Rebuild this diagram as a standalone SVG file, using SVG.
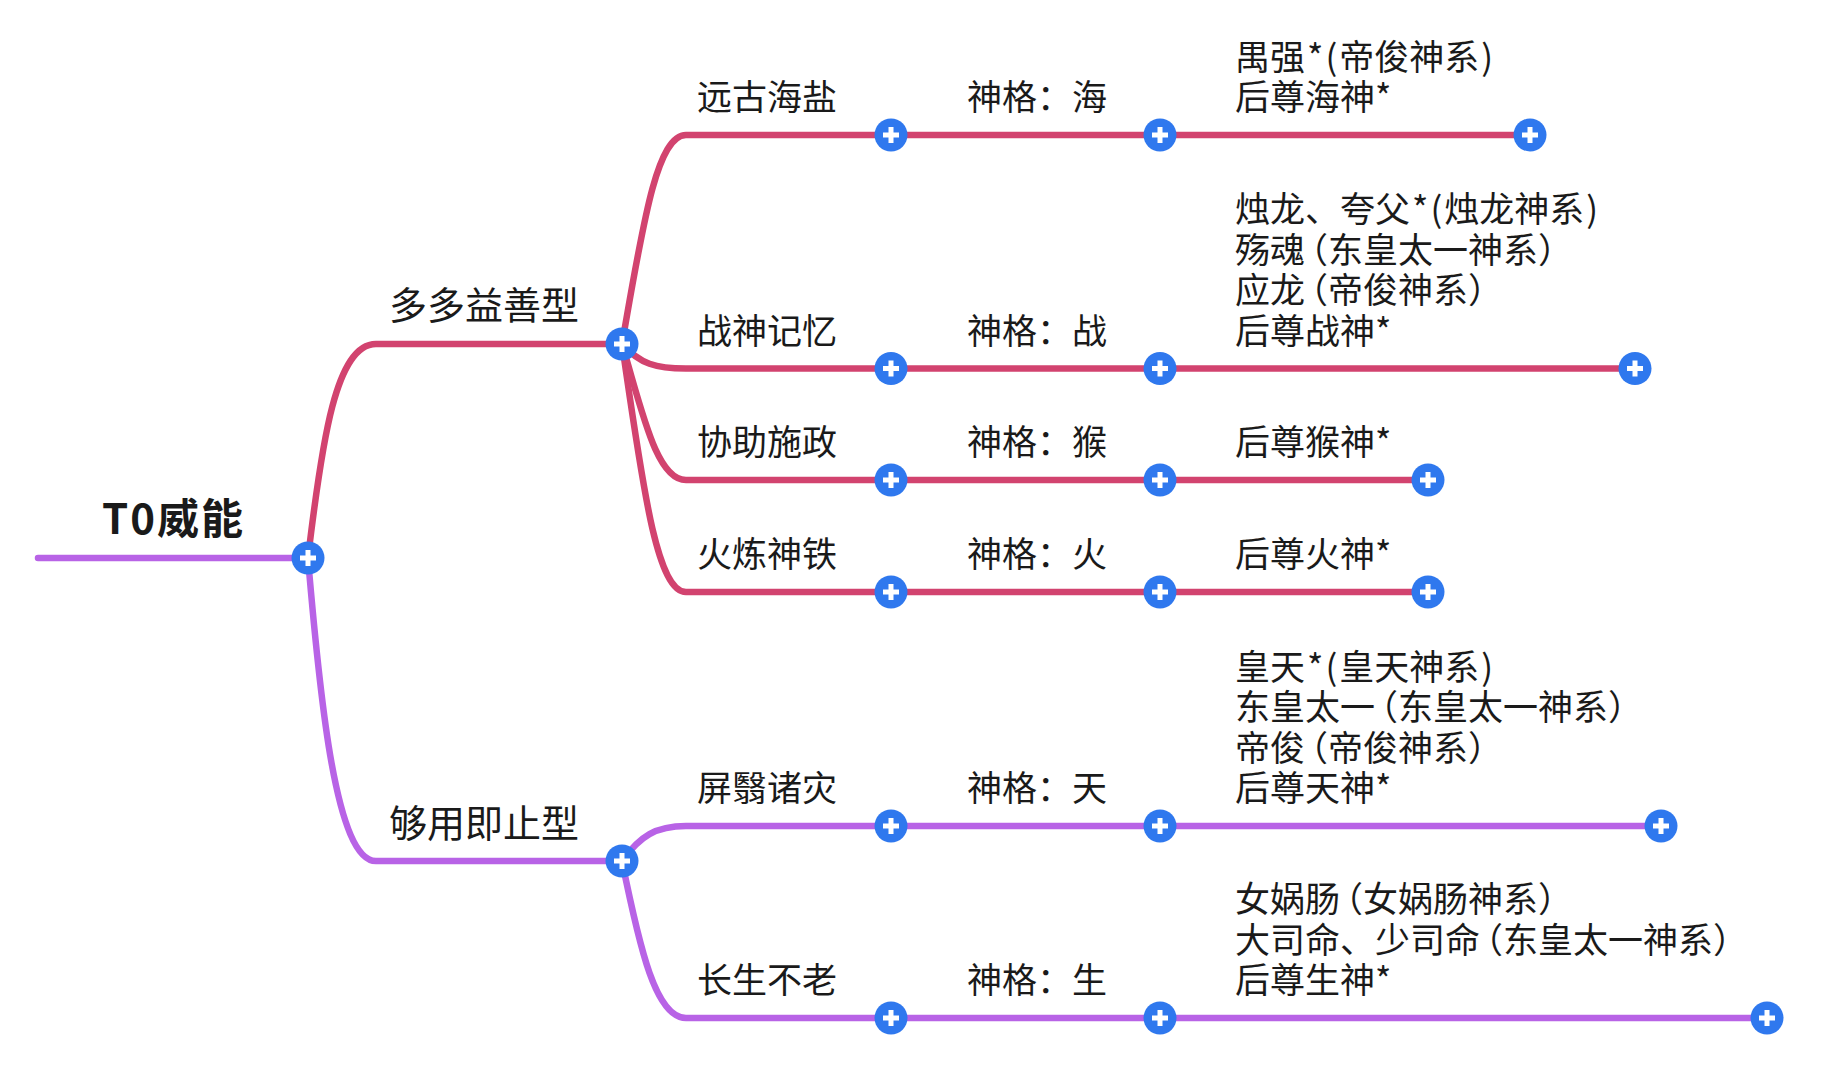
<svg xmlns="http://www.w3.org/2000/svg" xmlns:xlink="http://www.w3.org/1999/xlink" width="1848" height="1080" viewBox="0 0 1848 1080">
<style>
  .t { font-family: "Noto Sans CJK SC", "Noto Sans", sans-serif; fill: #1a1a1a; }
  .root { font-size: 42px; font-weight: 700; letter-spacing: 2px; }
  .l1 { font-size: 38px; }
  .l2 { font-size: 35px; }
  .pink { fill: none; stroke: #d2436f; stroke-width: 6.5; stroke-linecap: round; }
  .purple { fill: none; stroke: #b863e6; stroke-width: 6.5; stroke-linecap: round; }
</style>
<defs>
  <g id="plus">
    <circle r="16.5" fill="#2f78ee"/>
    <path d="M-8,0H8M0,-8V8" stroke="#ffffff" stroke-width="5"/>
  </g>
</defs>
<rect width="1848" height="1080" fill="#ffffff"/>
<g id="connectors">
  <path class="purple" d="M38,558 L308,558"/>
  <path class="pink" d="M308,558 C322,440 336,344 376,344 L622,344"/>
  <path class="purple" d="M308,558 C320,700 336,861 376,861 L622,861"/>
  <path class="pink" d="M622,344 C642,230 656,135 686,135 L1530,135"/>
  <path class="pink" d="M622,344 C640,364 656,368.5 686,368.5 L1635,368.5"/>
  <path class="pink" d="M622,344 C642,410 656,480 686,480 L1428,480"/>
  <path class="pink" d="M622,344 C642,480 656,592 686,592 L1428,592"/>
  <path class="purple" d="M622,861 C640,836 656,826 686,826 L1661,826"/>
  <path class="purple" d="M622,861 C640,950 656,1018 686,1018 L1767,1018"/>
</g>
<g id="node-root">
  <text class="t root" x="102" y="534">T0威能</text>
  <use xlink:href="#plus" href="#plus" x="308" y="558"/>
</g>
<g id="node-duoduo">
  <text class="t l1" x="389" y="319">多多益善型</text>
  <use href="#plus" xlink:href="#plus" x="622" y="344"/>
</g>
<g id="node-gouyong">
  <text class="t l1" x="389" y="837">够用即止型</text>
  <use href="#plus" xlink:href="#plus" x="622" y="861"/>
</g>
<g id="node-yuangu">
  <text class="t l2" x="697" y="110">远古海盐</text>
  <use href="#plus" xlink:href="#plus" x="891" y="135"/>
</g>
<g id="node-shenge-hai">
  <text class="t l2" x="967" y="110">神格：海</text>
  <use href="#plus" xlink:href="#plus" x="1160" y="135"/>
</g>
<g id="node-hai-gods">
  <text class="t l2"><tspan x="1235" y="69.5" dx="0 0 2 2 2 0 0 0 2">禺强*(帝俊神系)</tspan><tspan x="1235" y="110">后尊海神*</tspan></text>
  <use href="#plus" xlink:href="#plus" x="1530" y="135"/>
</g>
<g id="node-zhanshen">
  <text class="t l2" x="697" y="343.5">战神记忆</text>
  <use href="#plus" xlink:href="#plus" x="891" y="368.5"/>
</g>
<g id="node-shenge-zhan">
  <text class="t l2" x="967" y="343.5">神格：战</text>
  <use href="#plus" xlink:href="#plus" x="1160" y="368.5"/>
</g>
<g id="node-zhan-gods">
  <text class="t l2"><tspan x="1235" y="222" dx="0 0 0 0 0 2 2 2 0 0 0 2">烛龙、夸父*(烛龙神系)</tspan><tspan x="1235" y="262.5" dx="0 0 -12">殇魂（东皇太一神系）</tspan><tspan x="1235" y="303" dx="0 0 -12">应龙（帝俊神系）</tspan><tspan x="1235" y="343.5">后尊战神*</tspan></text>
  <use href="#plus" xlink:href="#plus" x="1635" y="368.5"/>
</g>
<g id="node-xiezhu">
  <text class="t l2" x="697" y="455">协助施政</text>
  <use href="#plus" xlink:href="#plus" x="891" y="480"/>
</g>
<g id="node-shenge-hou">
  <text class="t l2" x="967" y="455">神格：猴</text>
  <use href="#plus" xlink:href="#plus" x="1160" y="480"/>
</g>
<g id="node-hou-gods">
  <text class="t l2" x="1235" y="455">后尊猴神*</text>
  <use href="#plus" xlink:href="#plus" x="1428" y="480"/>
</g>
<g id="node-huolian">
  <text class="t l2" x="697" y="567">火炼神铁</text>
  <use href="#plus" xlink:href="#plus" x="891" y="592"/>
</g>
<g id="node-shenge-huo">
  <text class="t l2" x="967" y="567">神格：火</text>
  <use href="#plus" xlink:href="#plus" x="1160" y="592"/>
</g>
<g id="node-huo-gods">
  <text class="t l2" x="1235" y="567">后尊火神*</text>
  <use href="#plus" xlink:href="#plus" x="1428" y="592"/>
</g>
<g id="node-pingyi">
  <text class="t l2" x="697" y="801">屏翳诸灾</text>
  <use href="#plus" xlink:href="#plus" x="891" y="826"/>
</g>
<g id="node-shenge-tian">
  <text class="t l2" x="967" y="801">神格：天</text>
  <use href="#plus" xlink:href="#plus" x="1160" y="826"/>
</g>
<g id="node-tian-gods">
  <text class="t l2"><tspan x="1235" y="679.5" dx="0 0 2 2 2 0 0 0 2">皇天*(皇天神系)</tspan><tspan x="1235" y="720" dx="0 0 0 0 -12">东皇太一（东皇太一神系）</tspan><tspan x="1235" y="760.5" dx="0 0 -12">帝俊（帝俊神系）</tspan><tspan x="1235" y="801">后尊天神*</tspan></text>
  <use href="#plus" xlink:href="#plus" x="1661" y="826"/>
</g>
<g id="node-changsheng">
  <text class="t l2" x="697" y="993">长生不老</text>
  <use href="#plus" xlink:href="#plus" x="891" y="1018"/>
</g>
<g id="node-shenge-sheng">
  <text class="t l2" x="967" y="993">神格：生</text>
  <use href="#plus" xlink:href="#plus" x="1160" y="1018"/>
</g>
<g id="node-sheng-gods">
  <text class="t l2"><tspan x="1235" y="912" dx="0 0 0 -12">女娲肠（女娲肠神系）</tspan><tspan x="1235" y="952.5" dx="0 0 0 0 0 0 0 -12">大司命、少司命（东皇太一神系）</tspan><tspan x="1235" y="993">后尊生神*</tspan></text>
  <use href="#plus" xlink:href="#plus" x="1767" y="1018"/>
</g>
</svg>
